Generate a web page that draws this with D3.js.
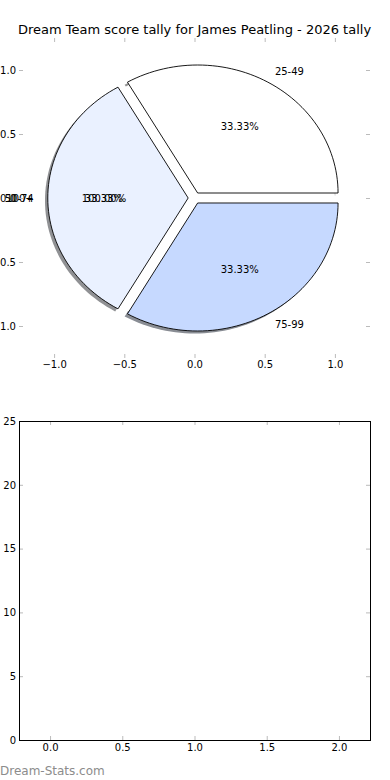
<!DOCTYPE html>
<html>
<head>
<meta charset="utf-8">
<script src="https://cdn.jsdelivr.net/npm/d3@7"></script>
<style>
  body { margin: 0; background: #fff; }
  svg { display: block; font-family: "DejaVu Sans", sans-serif; }
  .tick line { stroke: #bbb; }
  .tick text { fill: #000; font-size: 10px; font-family: "DejaVu Sans", sans-serif; }
</style>
</head>
<body>
<svg id="chart" width="390" height="780"></svg>
<script>
// score bands and how many games fell in each
var categories = ["25-49", "50-74", "75-99"];
var counts = [1, 1, 1];
var colors = ["#ffffff", "#eaf1ff", "#c6d9ff"];
// leftover labels that matplotlib stacked on top of each other at the left
var extraCategories = ["100+"];
var extraCounts = [1];

var pieTicks = [-1, -0.5, 0, 0.5, 1];
var barYTicks = [0, 5, 10, 15, 20, 25];
var barXTicks = [0, 0.5, 1, 1.5, 2];

var title = "Dream Team score tally for James Peatling - 2026 tally";

var svg = d3.select("#chart"),
    explode = 0.045,
    fmt = d3.format(".1f");

var xPie = d3.scaleLinear().domain([-1.25, 1.25]).range([19, 370]),
    yPie = d3.scaleLinear().domain([-1.25, 1.25]).range([358, 38]);

var xBar = d3.scaleLinear().domain([-0.215, 2.215]).range([19, 370]),
    yBar = d3.scaleLinear().domain([0, 25]).range([740, 421]);

svg.append("text")
  .attr("x", 194.5)
  .attr("y", 34)
  .attr("text-anchor", "middle")
  .style("font-size", "13px")
  .text(title);

// ---- pie ----
var pie = d3.pie().sort(null).startAngle(0).endAngle(2 * Math.PI);
var slices = pie(counts);
var total = d3.sum(counts);

var line = d3.line()
  .x(function(d) { return xPie(d[0]); })
  .y(function(d) { return yPie(d[1]); });

function wedgePts(s, ox, oy) {
  var mid = (s.startAngle + s.endAngle) / 2,
      cx = explode * Math.cos(mid) + ox,
      cy = explode * Math.sin(mid) + oy,
      pts = [[cx, cy]],
      n = 60;
  for (var i = 0; i <= n; i++) {
    var a = s.startAngle + (s.endAngle - s.startAngle) * i / n;
    pts.push([cx + Math.cos(a), cy + Math.sin(a)]);
  }
  pts.push([cx, cy]);
  return pts;
}

// shadow only shows outside the unit ellipse (the gaps stay white)
var ring = [];
for (var k = 0; k <= 120; k++) {
  var t = 2 * Math.PI * k / 120;
  ring.push([Math.cos(t) * 1.0, Math.sin(t) * 1.0]);
}
svg.append("defs").append("clipPath")
  .attr("id", "outside")
  .append("path")
  .attr("clip-rule", "evenodd")
  .attr("d", "M0,0H390V400H0Z" + line(ring) + "Z");

var pieG = svg.append("g");

pieG.append("g").attr("clip-path", "url(#outside)")
  .selectAll("path.shadow")
  .data(slices)
  .enter().append("path")
  .attr("class", "shadow")
  .attr("d", function(d) { return line(wedgePts(d, -0.02, -0.02)); })
  .style("fill", function(d, i) {
    var c = d3.rgb(colors[i]);
    return "rgba(" + Math.round(c.r * 0.3) + "," + Math.round(c.g * 0.3) + "," + Math.round(c.b * 0.3) + ",0.6)";
  })
  .style("stroke", "none");

pieG.selectAll("path.wedge")
  .data(slices)
  .enter().append("path")
  .attr("class", "wedge")
  .attr("d", function(d) { return line(wedgePts(d, 0, 0)); })
  .style("fill", function(d, i) { return colors[i]; })
  .style("stroke", "#000")
  .style("stroke-width", 0.9)
  .style("stroke-linejoin", "miter");

function addLabels(sl, names, sum) {
  sl.forEach(function(s, i) {
    var mid = (s.startAngle + s.endAngle) / 2,
        cx = explode * Math.cos(mid),
        cy = explode * Math.sin(mid),
        lx = cx + 1.1 * Math.cos(mid),
        ly = cy + 1.1 * Math.sin(mid),
        px = cx + 0.6 * Math.cos(mid),
        py = cy + 0.6 * Math.sin(mid);
    pieG.append("text")
      .attr("x", xPie(lx))
      .attr("y", yPie(ly))
      .attr("dy", "0.35em")
      .attr("text-anchor", lx > 0 ? "start" : "end")
      .style("font-size", "10px")
      .text(names[i]);
    pieG.append("text")
      .attr("x", xPie(px))
      .attr("y", yPie(py))
      .attr("dy", "0.35em")
      .attr("text-anchor", "middle")
      .style("font-size", "10px")
      .text((s.value / sum * 100).toFixed(2) + "%");
  });
}
addLabels(slices, categories, total);
addLabels(pie(extraCounts), extraCategories, d3.sum(extraCounts));

// pie axes: ticks only, no spines
function tickAxis(g, axis) {
  g.call(axis);
  g.attr("font-family", null);
  g.select(".domain").remove();
}
svg.append("g").attr("transform", "translate(0,358)")
  .call(tickAxis, d3.axisBottom(xPie).tickValues(pieTicks).tickFormat(fmt).tickSizeInner(-4).tickSizeOuter(0).tickPadding(3));
svg.append("g").attr("transform", "translate(0,38)")
  .call(tickAxis, d3.axisTop(xPie).tickValues(pieTicks).tickFormat("").tickSizeInner(-4).tickSizeOuter(0));
svg.append("g").attr("transform", "translate(19,0)")
  .call(tickAxis, d3.axisLeft(yPie).tickValues(pieTicks).tickFormat(fmt).tickSizeInner(-4).tickSizeOuter(0).tickPadding(3));
svg.append("g").attr("transform", "translate(370,0)")
  .call(tickAxis, d3.axisRight(yPie).tickValues(pieTicks).tickFormat("").tickSizeInner(-4).tickSizeOuter(0));

// ---- empty bar chart ----
svg.append("g").attr("transform", "translate(0,740)")
  .call(tickAxis, d3.axisBottom(xBar).tickValues(barXTicks).tickFormat(fmt).tickSizeInner(-4).tickSizeOuter(0).tickPadding(4));
svg.append("g").attr("transform", "translate(0,421)")
  .call(tickAxis, d3.axisTop(xBar).tickValues(barXTicks).tickFormat("").tickSizeInner(-4).tickSizeOuter(0));
svg.append("g").attr("transform", "translate(19,0)")
  .call(tickAxis, d3.axisLeft(yBar).tickValues(barYTicks).tickFormat(d3.format("d")).tickSizeInner(-4).tickSizeOuter(0).tickPadding(3));
svg.append("g").attr("transform", "translate(370,0)")
  .call(tickAxis, d3.axisRight(yBar).tickValues(barYTicks).tickFormat("").tickSizeInner(-4).tickSizeOuter(0));

svg.append("rect")
  .attr("x", xBar.range()[0] + 0.5)
  .attr("y", yBar.range()[1] + 0.5)
  .attr("width", xBar.range()[1] - xBar.range()[0])
  .attr("height", yBar.range()[0] - yBar.range()[1])
  .style("fill", "none")
  .style("stroke", "#000")
  .style("stroke-width", 1);

svg.append("text")
  .attr("x", 0)
  .attr("y", 775)
  .style("font-size", "12px")
  .style("fill", "#8c8c8c")
  .text("Dream-Stats.com");
</script>
</body>
</html>
